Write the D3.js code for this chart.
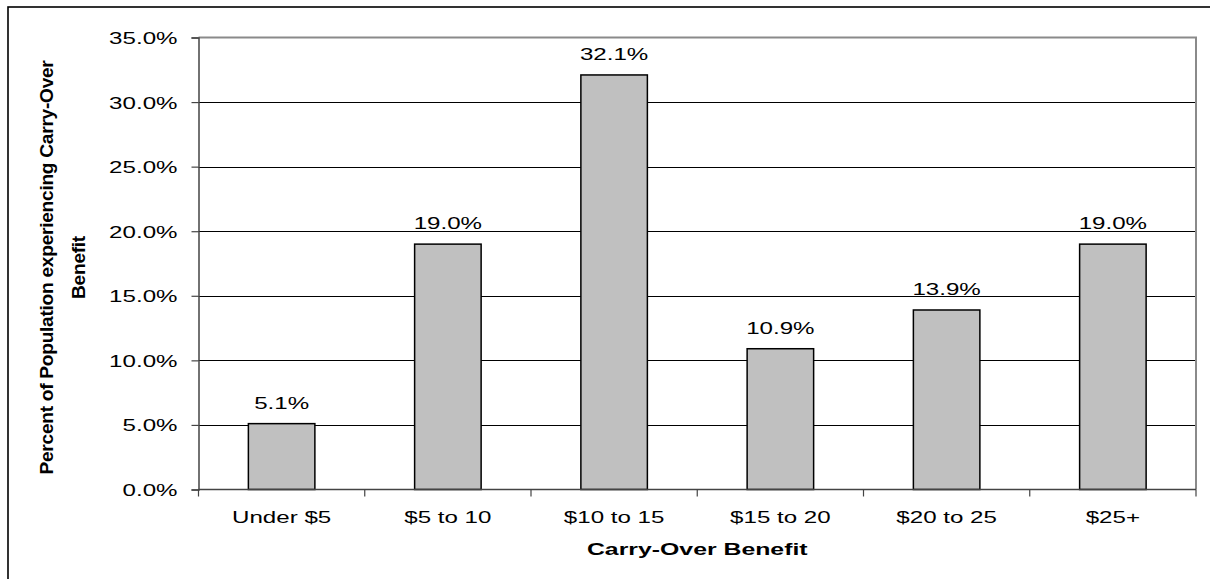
<!DOCTYPE html>
<html>
<head>
<meta charset="utf-8">
<script src="https://cdn.jsdelivr.net/npm/d3@7"></script>
<style>
  html, body { margin: 0; padding: 0; background: #fff; }
  svg { display: block; }
  text { font-family: "Liberation Sans", Arial, sans-serif; fill: #000; }
</style>
</head>
<body>
<svg id="chart" width="1210" height="579"></svg>
<script>
// Share of the population by size of carry-over benefit
const categories = ["Under $5", "$5 to 10", "$10 to 15", "$15 to 20", "$20 to 25", "$25+"];
const shares = [5.1, 19.0, 32.1, 10.9, 13.9, 19.0];
const yTicks = [0, 5, 10, 15, 20, 25, 30, 35];
const xTitle = "Carry-Over Benefit";
const yTitleLines = ["Percent of Population experiencing Carry-Over", "Benefit"];

const svg = d3.select("#chart");
const plot = { left: 198.5, right: 1196, top: 37.5, bottom: 489.5 };
const stretch = 1.42; // horizontal widening of the lettering

// outer frame
svg.append("rect")
  .attr("x", 8).attr("y", 7)
  .attr("width", 1220).attr("height", 590)
  .attr("fill", "none").attr("stroke", "#000").attr("stroke-width", 1.6);

const x = d3.scaleBand().domain(categories).range([plot.left, plot.right]).padding(0);
const y = d3.scaleLinear().domain([0, 35]).range([plot.bottom, plot.top]);

// horizontal gridlines
svg.append("g").selectAll("line")
  .data(yTicks.filter(d => d > 0 && d < 35))
  .join("line")
  .attr("x1", plot.left).attr("x2", plot.right)
  .attr("y1", d => Math.round(y(d)) + 0.5).attr("y2", d => Math.round(y(d)) + 0.5)
  .attr("stroke", "#000").attr("stroke-width", 1);

// plot-area border (top and right)
svg.append("path")
  .attr("d", `M${plot.left},${y(35)}H${plot.right}V${plot.bottom}`)
  .attr("fill", "none").attr("stroke", "#8a8a8a").attr("stroke-width", 2);

// bars
const barW = x.bandwidth() * 0.4;
svg.append("g").selectAll("rect")
  .data(shares)
  .join("rect")
  .attr("x", (d, i) => x(categories[i]) + (x.bandwidth() - barW) / 2)
  .attr("y", d => y(d))
  .attr("width", barW)
  .attr("height", d => y(0) - y(d))
  .attr("fill", "#c0c0c0")
  .attr("stroke", "#000").attr("stroke-width", 1.5);

// value labels
svg.append("g").selectAll("text")
  .data(shares)
  .join("text")
  .attr("text-anchor", "middle")
  .attr("font-size", 17)
  .attr("transform", (d, i) => `translate(${x(categories[i]) + x.bandwidth() / 2},${y(d) - 15}) scale(${stretch},1)`)
  .text(d => d.toFixed(1) + "%");

// y axis
const yAxis = svg.append("g")
  .attr("transform", `translate(${plot.left},0)`)
  .call(d3.axisLeft(y).tickValues(yTicks).tickSize(7).tickFormat(d => d.toFixed(1) + "%"));
yAxis.select(".domain").attr("stroke", "#444").attr("stroke-width", 1.5);
yAxis.selectAll(".tick line").attr("stroke", "#444").attr("stroke-width", 1.2);
yAxis.selectAll(".tick text")
  .attr("x", null).attr("dy", null)
  .attr("font-size", 17)
  .attr("font-family", "\"Liberation Sans\", Arial, sans-serif")
  .attr("fill", "#000")
  .attr("text-anchor", "end")
  .attr("transform", `translate(-21,6) scale(${stretch},1)`);

// x axis: baseline, ticks between categories, category labels
const xAxis = svg.append("g");
xAxis.append("line")
  .attr("x1", plot.left).attr("x2", plot.right)
  .attr("y1", plot.bottom).attr("y2", plot.bottom)
  .attr("stroke", "#444").attr("stroke-width", 1.5);
const bounds = categories.map(c => x(c)).concat([x.range()[1]]);
xAxis.selectAll("line.tick")
  .data(bounds)
  .join("line")
  .attr("class", "tick")
  .attr("x1", d => d).attr("x2", d => d)
  .attr("y1", plot.bottom).attr("y2", plot.bottom + 7)
  .attr("stroke", "#444").attr("stroke-width", 1.2);
xAxis.selectAll("text")
  .data(categories)
  .join("text")
  .attr("text-anchor", "middle")
  .attr("font-size", 17)
  .attr("transform", d => `translate(${x(d) + x.bandwidth() / 2},${plot.bottom + 33}) scale(${stretch},1)`)
  .text(d => d);

// axis titles
svg.append("text")
  .attr("text-anchor", "middle")
  .attr("font-size", 17)
  .attr("font-weight", "bold")
  .attr("transform", `translate(${(plot.left + plot.right) / 2},555) scale(1.46,1)`)
  .text(xTitle);

svg.append("g").selectAll("text")
  .data(yTitleLines)
  .join("text")
  .attr("text-anchor", "middle")
  .attr("font-size", 19.2)
  .attr("font-weight", "bold")
  .attr("letter-spacing", -0.3)
  .attr("transform", (d, i) => `translate(${53 + i * 32},${(plot.top + plot.bottom) / 2 + 4}) rotate(-90)`)
  .text(d => d);
</script>
</body>
</html>
